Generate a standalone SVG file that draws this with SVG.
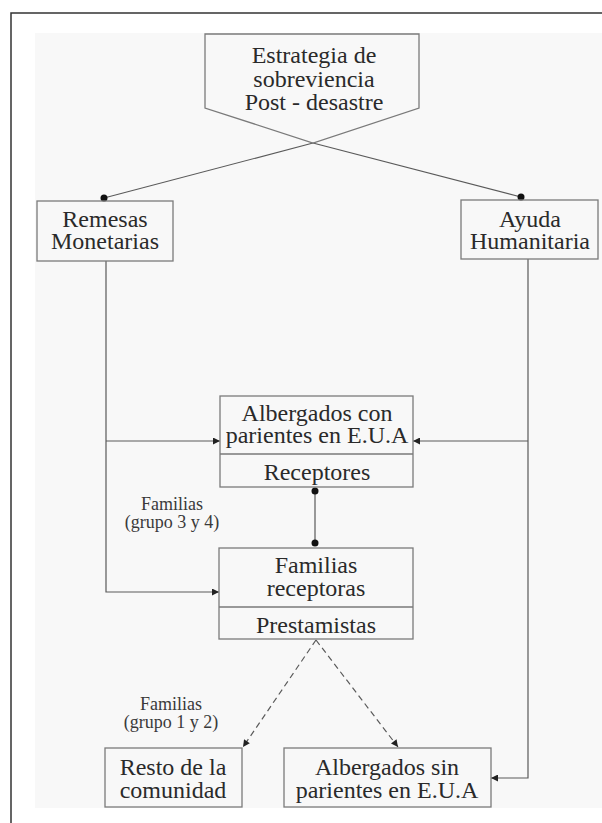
<svg xmlns="http://www.w3.org/2000/svg" width="602" height="823" viewBox="0 0 602 823">
  <style>
    .box { fill: none; stroke: #7a7a7a; stroke-width: 1.3; }
    .t { font-family: "Liberation Serif", "Times New Roman", serif; font-size: 24px; fill: #2a2a2a; text-anchor: middle; }
    .lbl { font-family: "Liberation Serif", "Times New Roman", serif; font-size: 18px; fill: #3a3a3a; text-anchor: middle; }
    .ln { fill: none; stroke: #5a5a5a; stroke-width: 1.2; }
    .dash { fill: none; stroke: #5a5a5a; stroke-width: 1.2; stroke-dasharray: 6 4; }
    .dot { fill: #111; }
  </style>
  <defs>
    <marker id="arr" viewBox="0 0 10 10" refX="10" refY="5" markerWidth="9" markerHeight="7" markerUnits="userSpaceOnUse" orient="auto">
      <path d="M0,0 L10,5 L0,10 z" fill="#222"/>
    </marker>
  </defs>

  <!-- page background and frame -->
  <rect x="0" y="0" width="602" height="823" fill="#ffffff"/>
  <rect x="35" y="33" width="567" height="775" fill="#f8f8f8"/>
  <path d="M11,823 V13 H602" fill="none" stroke="#333" stroke-width="1.5"/>

  <!-- connectors -->
  <g id="connectors">
    <path class="ln" d="M313,143 L104,198"/>
    <path class="ln" d="M313,143 L521,197"/>
    <circle class="dot" cx="104" cy="198" r="3.5"/>
    <circle class="dot" cx="521" cy="197" r="3.5"/>

    <path class="ln" d="M106,261 V592 H219" marker-end="url(#arr)"/>
    <path class="ln" d="M106,441 H220" marker-end="url(#arr)"/>
    <path class="ln" d="M528,259 V778 H491" marker-end="url(#arr)"/>
    <path class="ln" d="M528,441 H413" marker-end="url(#arr)"/>

    <path class="ln" d="M315,491 V543"/>
    <circle class="dot" cx="315" cy="491" r="3.5"/>
    <circle class="dot" cx="315" cy="543" r="3.5"/>

    <path class="dash" d="M316,640 L243,747" marker-end="url(#arr)"/>
    <path class="dash" d="M316,640 L398,747" marker-end="url(#arr)"/>

    <text class="lbl" x="172" y="510">Familias</text>
    <text class="lbl" x="172" y="528">(grupo 3 y 4)</text>
    <text class="lbl" x="171" y="710">Familias</text>
    <text class="lbl" x="171" y="728">(grupo 1 y 2)</text>
  </g>

  <!-- nodes -->
  <g id="estrategia">
    <path class="box" d="M205,34 H419 V108 L313,143 L205,108 Z"/>
    <text class="t" x="314" y="63">Estrategia de</text>
    <text class="t" x="314" y="87">sobreviencia</text>
    <text class="t" x="314" y="110">Post - desastre</text>
  </g>

  <g id="remesas">
    <rect class="box" x="37" y="201" width="136" height="60"/>
    <text class="t" x="105" y="227">Remesas</text>
    <text class="t" x="105" y="249">Monetarias</text>
  </g>

  <g id="ayuda">
    <rect class="box" x="461" y="200" width="137" height="59"/>
    <text class="t" x="530" y="227">Ayuda</text>
    <text class="t" x="530" y="249">Humanitaria</text>
  </g>

  <g id="albergados-con">
    <rect class="box" x="220" y="396" width="193" height="91"/>
    <line class="box" x1="220" y1="454" x2="413" y2="454"/>
    <text class="t" x="317" y="421">Albergados con</text>
    <text class="t" x="317" y="443">parientes en E.U.A</text>
    <text class="t" x="317" y="480">Receptores</text>
  </g>

  <g id="familias-receptoras">
    <rect class="box" x="219" y="548" width="194" height="91"/>
    <line class="box" x1="219" y1="607" x2="413" y2="607"/>
    <text class="t" x="316" y="573">Familias</text>
    <text class="t" x="316" y="596">receptoras</text>
    <text class="t" x="316" y="633">Prestamistas</text>
  </g>

  <g id="resto">
    <rect class="box" x="105" y="748" width="137" height="59"/>
    <text class="t" x="173" y="775">Resto de la</text>
    <text class="t" x="173" y="798">comunidad</text>
  </g>

  <g id="albergados-sin">
    <rect class="box" x="284" y="748" width="207" height="59"/>
    <text class="t" x="387" y="775">Albergados sin</text>
    <text class="t" x="387" y="798">parientes en E.U.A</text>
  </g>
</svg>
